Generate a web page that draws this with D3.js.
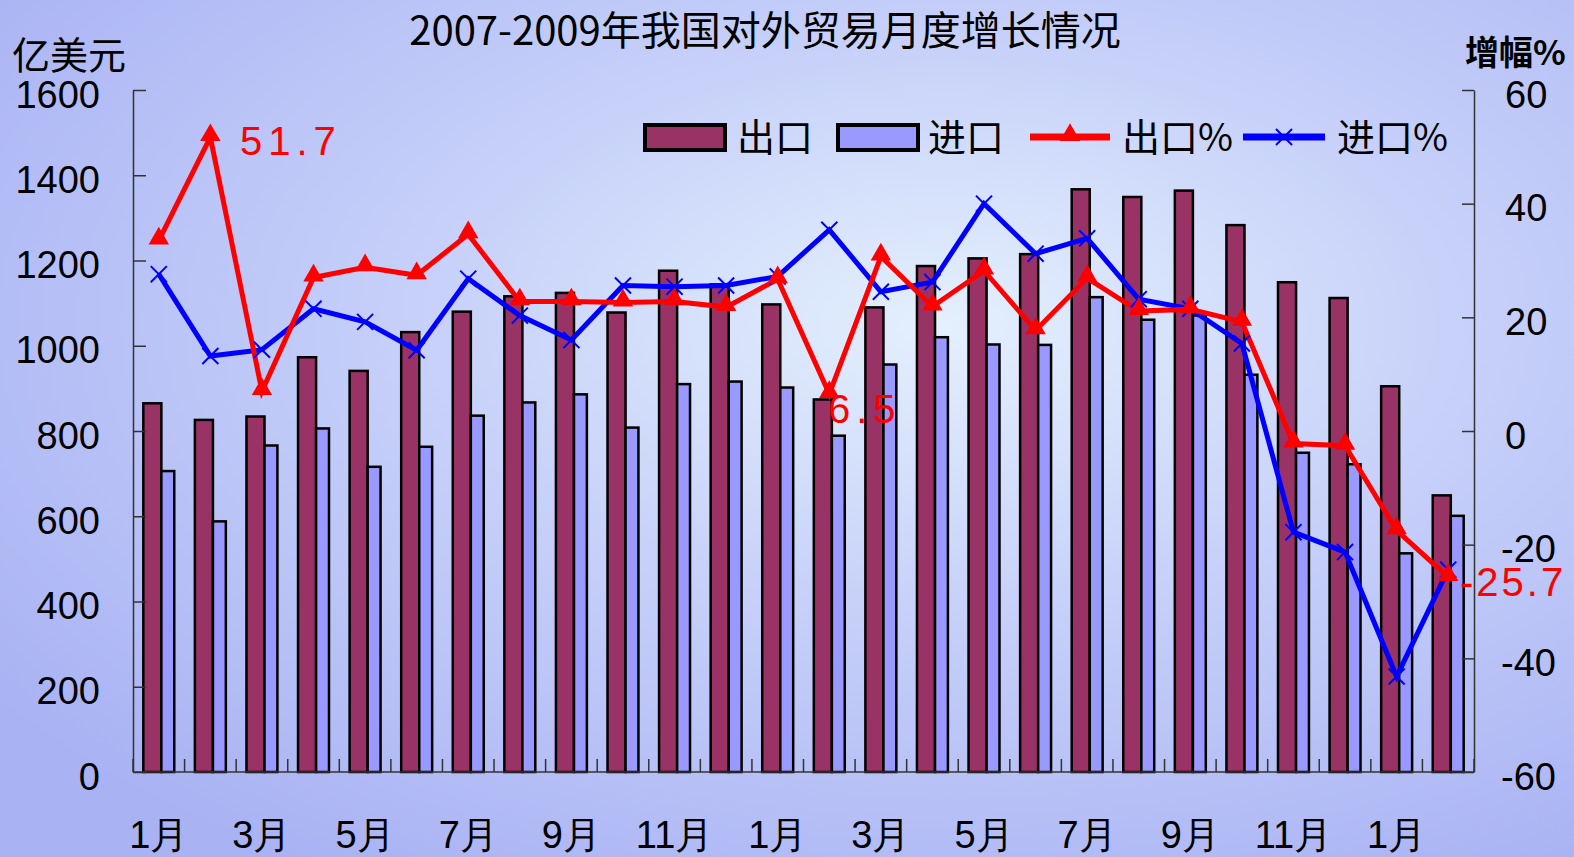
<!DOCTYPE html>
<html>
<head>
<meta charset="utf-8">
<script src="https://cdn.jsdelivr.net/npm/d3@7"></script>
<style>
  html, body { margin: 0; padding: 0; overflow: hidden; }
  svg { display: block; }
</style>
</head>
<body>
<div class="container"></div>
<script>
// months Jan 2007 .. Feb 2009
const months = ['1月','2月','3月','4月','5月','6月','7月','8月','9月','10月','11月','12月',
                '1月','2月','3月','4月','5月','6月','7月','8月','9月','10月','11月','12月',
                '1月','2月'];
// 亿美元
const exportVals = [865, 826, 834, 973, 941, 1032, 1080, 1116, 1124, 1078, 1176, 1144,
                    1097, 874, 1090, 1187, 1205, 1215, 1367, 1349, 1364, 1283, 1149, 1112,
                    905, 649];
const importVals = [706, 588, 766, 806, 716, 763, 836, 867, 886, 808, 910, 916,
                    902, 789, 956, 1020, 1003, 1002, 1114, 1061, 1071, 932, 749, 722,
                    513, 601];
// 增幅%
const exportPct = [33.5, 51.7, 7.0, 27.0, 28.8, 27.4, 34.6, 22.8, 22.8, 22.6, 22.8, 21.8,
                   26.7, 6.5, 30.7, 21.9, 28.2, 17.7, 26.9, 21.1, 21.4, 19.2, -2.2, -2.6,
                   -17.5, -25.7];
const importPct = [27.6, 13.2, 14.3, 21.5, 19.2, 14.2, 26.8, 20.3, 16.0, 25.6, 25.4, 25.6,
                   27.2, 35.4, 24.5, 26.2, 40.0, 31.2, 33.9, 23.2, 21.5, 15.4, -17.8, -21.3,
                   -43.2, -24.4];
const leftTicks = [0, 200, 400, 600, 800, 1000, 1200, 1400, 1600];
const rightTicks = [-60, -40, -20, 0, 20, 40, 60];
// labelled points: index -> text
const callouts = [{i: 1, text: '51.7'}, {i: 13, text: '6.5'}, {i: 25, text: '-25.7'}];

const W = 1574, H = 857;
const plotL = 133, plotR = 1474, plotT = 90, plotB = 772;

const svg = d3.select('.container').append('svg')
    .attr('width', W).attr('height', H);

const defs = svg.append('defs');
const grad = defs.append('radialGradient').attr('id', 'bg')
    .attr('cx', '0.6').attr('cy', '0.38').attr('r', '0.75');
grad.append('stop').attr('offset', '0').attr('stop-color', '#e4f0fd');
grad.append('stop').attr('offset', '0.45').attr('stop-color', '#c6d0f9');
grad.append('stop').attr('offset', '1').attr('stop-color', '#a9b2f3');
svg.append('rect').attr('width', W).attr('height', H).attr('fill', 'url(#bg)');

const x = d3.scaleBand().domain(d3.range(months.length)).range([plotL, plotR]).padding(0);
const yL = d3.scaleLinear().domain([0, 1600]).range([plotB, plotT]);
const yR = d3.scaleLinear().domain([-60, 60]).range([plotB, plotT]);

const bw = x.bandwidth();
const expW = bw * 0.35, impW = bw * 0.25;
const cx = i => x(i) + bw / 2;

const numFont = '"Liberation Sans", Arial, sans-serif';
const cjkFont = '"Noto Sans CJK SC", "Noto Sans", sans-serif';

// bars
const bars = svg.append('g').attr('stroke', '#000').attr('stroke-width', 2.5);
bars.selectAll('rect.exp').data(exportVals).join('rect')
    .attr('class', 'exp')
    .attr('x', (d, i) => cx(i) - (expW + impW) / 2)
    .attr('y', d => yL(d))
    .attr('width', expW)
    .attr('height', d => yL(0) - yL(d))
    .attr('fill', '#993366');
bars.selectAll('rect.imp').data(importVals).join('rect')
    .attr('class', 'imp')
    .attr('x', (d, i) => cx(i) - (expW + impW) / 2 + expW)
    .attr('y', d => yL(d))
    .attr('width', impW)
    .attr('height', d => yL(0) - yL(d))
    .attr('fill', '#9999ff');

// axes
const axisColor = '#333';
const gl = svg.append('g').attr('transform', `translate(${plotL},0)`)
    .call(d3.axisLeft(yL).tickValues(leftTicks).tickSizeInner(-13).tickSizeOuter(0).tickPadding(33)
        .tickFormat(d3.format('d')));
const gr = svg.append('g').attr('transform', `translate(${plotR},0)`)
    .call(d3.axisRight(yR).tickValues(rightTicks).tickSizeInner(-12).tickSizeOuter(0).tickPadding(28)
        .tickFormat(d => d < 0 ? '-' + Math.abs(d) : String(d)));
[gl, gr].forEach(g => {
    g.selectAll('path, line').attr('stroke', axisColor).attr('stroke-width', 1.5);
    g.selectAll('text').attr('font-family', numFont).attr('font-size', 38)
        .attr('dy', '0.45em').attr('fill', '#000');
});
// positive right labels sit a little further in than the negative ones
gr.selectAll('.tick text').attr('x', d => d < 0 ? 27 : 31);

// category axis
const gb = svg.append('g');
gb.append('line').attr('x1', plotL).attr('x2', plotR).attr('y1', plotB).attr('y2', plotB)
    .attr('stroke', axisColor).attr('stroke-width', 1.5);
gb.selectAll('line.tk').data(d3.range(months.length + 1)).join('line')
    .attr('class', 'tk')
    .attr('x1', i => plotL + i * bw).attr('x2', i => plotL + i * bw)
    .attr('y1', plotB).attr('y2', plotB - 13)
    .attr('stroke', axisColor).attr('stroke-width', 1.5);
gb.selectAll('text').data(months.filter((d, i) => i % 2 === 0)).join('text')
    .attr('x', (d, i) => cx(i * 2))
    .attr('y', 848)
    .attr('text-anchor', 'middle')
    .attr('font-family', numFont)
    .attr('font-size', 38)
    .text(d => d);

// growth lines
const line = d3.line().x((d, i) => cx(i)).y(d => yR(d));
svg.append('path').datum(importPct).attr('d', line)
    .attr('fill', 'none').attr('stroke', '#0000ff').attr('stroke-width', 5).attr('stroke-linejoin', 'miter');
svg.append('path').datum(exportPct).attr('d', line)
    .attr('fill', 'none').attr('stroke', '#ff0000').attr('stroke-width', 5).attr('stroke-linejoin', 'miter');

const tri = d3.symbol().type(d3.symbolTriangle).size(180);
const cross = d3.symbol().type(d3.symbolX).size(170);
svg.append('g').selectAll('path').data(importPct).join('path')
    .attr('transform', (d, i) => `translate(${cx(i)},${yR(d)})`)
    .attr('d', cross).attr('fill', '#0000ff').attr('stroke', '#0000ff').attr('stroke-width', 2);
svg.append('g').selectAll('path').data(exportPct).join('path')
    .attr('transform', (d, i) => `translate(${cx(i)},${yR(d) - 2})`)
    .attr('d', tri).attr('fill', '#ff0000');

// callouts
const callPos = {1: [240, 155], 13: [828, 423], 25: [1460, 596]};
svg.append('g').selectAll('text').data(callouts).join('text')
    .attr('x', d => callPos[d.i][0])
    .attr('y', d => callPos[d.i][1])
    .attr('font-family', numFont)
    .attr('font-size', 40)
    .attr('letter-spacing', d => d.i === 25 ? 3 : 6)
    .attr('fill', '#ff0000')
    .text(d => d.text);

// titles
svg.append('text').attr('x', 765).attr('y', 45).attr('text-anchor', 'middle')
    .attr('font-family', cjkFont).attr('font-size', 40).text('2007-2009年我国对外贸易月度增长情况');
svg.append('text').attr('x', 12).attr('y', 69)
    .attr('font-family', cjkFont).attr('font-size', 38).text('亿美元');
svg.append('text').attr('x', 1465).attr('y', 65)
    .attr('font-family', cjkFont).attr('font-size', 34).attr('font-weight', 'bold').text('增幅%');

// legend
const legend = svg.append('g').attr('font-family', cjkFont).attr('font-size', 38);
legend.append('rect').attr('x', 645).attr('y', 125).attr('width', 80).attr('height', 25)
    .attr('fill', '#993366').attr('stroke', '#000').attr('stroke-width', 4);
legend.append('text').attr('x', 737).attr('y', 151).text('出口');
legend.append('rect').attr('x', 838).attr('y', 125).attr('width', 80).attr('height', 25)
    .attr('fill', '#9999ff').attr('stroke', '#000').attr('stroke-width', 4);
legend.append('text').attr('x', 928).attr('y', 151).text('进口');
legend.append('line').attr('x1', 1030).attr('x2', 1110).attr('y1', 137).attr('y2', 137)
    .attr('stroke', '#ff0000').attr('stroke-width', 7);
legend.append('path').attr('transform', 'translate(1070,135)').attr('d', tri).attr('fill', '#ff0000');
legend.append('text').attr('x', 1122).attr('y', 151).text('出口%');
legend.append('line').attr('x1', 1243).attr('x2', 1325).attr('y1', 137).attr('y2', 137)
    .attr('stroke', '#0000ff').attr('stroke-width', 7);
legend.append('path').attr('transform', 'translate(1284,137)').attr('d', cross)
    .attr('fill', '#0000ff').attr('stroke', '#0000ff').attr('stroke-width', 2);
legend.append('text').attr('x', 1337).attr('y', 151).text('进口%');
</script>
</body>
</html>
